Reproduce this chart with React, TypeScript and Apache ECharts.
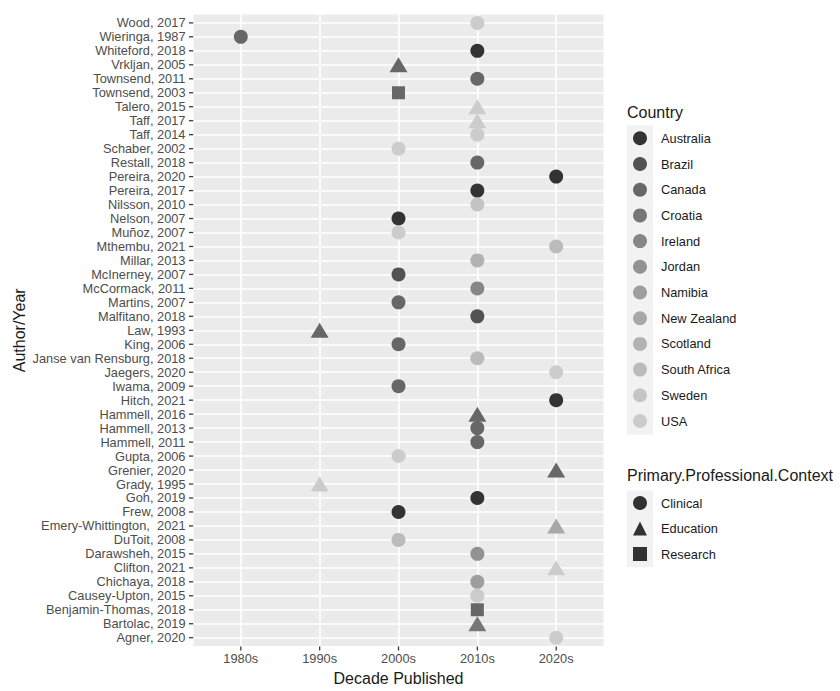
import React, { useEffect, useRef } from 'react';
import * as echarts from 'echarts';

const studies = [
  'Wood, 2017', 'Wieringa, 1987', 'Whiteford, 2018', 'Vrkljan, 2005', 'Townsend, 2011',
  'Townsend, 2003', 'Talero, 2015', 'Taff, 2017', 'Taff, 2014', 'Schaber, 2002',
  'Restall, 2018', 'Pereira, 2020', 'Pereira, 2017', 'Nilsson, 2010', 'Nelson, 2007',
  'Muñoz, 2007', 'Mthembu, 2021', 'Millar, 2013', 'McInerney, 2007', 'McCormack, 2011',
  'Martins, 2007', 'Malfitano, 2018', 'Law, 1993', 'King, 2006', 'Janse van Rensburg, 2018',
  'Jaegers, 2020', 'Iwama, 2009', 'Hitch, 2021', 'Hammell, 2016', 'Hammell, 2013',
  'Hammell, 2011', 'Gupta, 2006', 'Grenier, 2020', 'Grady, 1995', 'Goh, 2019',
  'Frew, 2008', 'Emery-Whittington,  2021', 'DuToit, 2008', 'Darawsheh, 2015', 'Clifton, 2021',
  'Chichaya, 2018', 'Causey-Upton, 2015', 'Benjamin-Thomas, 2018', 'Bartolac, 2019', 'Agner, 2020',
];

const decades = ['1980s', '1990s', '2000s', '2010s', '2020s'];

const studyDecade = [
  '2010s', '1980s', '2010s', '2000s', '2010s',
  '2000s', '2010s', '2010s', '2010s', '2000s',
  '2010s', '2020s', '2010s', '2010s', '2000s',
  '2000s', '2020s', '2010s', '2000s', '2010s',
  '2000s', '2010s', '1990s', '2000s', '2010s',
  '2020s', '2000s', '2020s', '2010s', '2010s',
  '2010s', '2000s', '2020s', '1990s', '2010s',
  '2000s', '2020s', '2000s', '2010s', '2020s',
  '2010s', '2010s', '2010s', '2010s', '2020s',
];

const studyCountry = [
  'USA', 'Canada', 'Australia', 'Canada', 'Canada',
  'Canada', 'USA', 'USA', 'USA', 'USA',
  'Canada', 'Australia', 'Australia', 'Sweden', 'Australia',
  'USA', 'South Africa', 'Scotland', 'Brazil', 'Ireland',
  'Canada', 'Brazil', 'Canada', 'Canada', 'South Africa',
  'USA', 'Canada', 'Australia', 'Canada', 'Canada',
  'Canada', 'USA', 'Canada', 'USA', 'Australia',
  'Australia', 'New Zealand', 'South Africa', 'Jordan', 'USA',
  'Namibia', 'USA', 'Canada', 'Croatia', 'USA',
];

const studyContext = [
  'Clinical', 'Clinical', 'Clinical', 'Education', 'Clinical',
  'Research', 'Education', 'Education', 'Clinical', 'Clinical',
  'Clinical', 'Clinical', 'Clinical', 'Clinical', 'Clinical',
  'Clinical', 'Clinical', 'Clinical', 'Clinical', 'Clinical',
  'Clinical', 'Clinical', 'Education', 'Clinical', 'Clinical',
  'Clinical', 'Clinical', 'Clinical', 'Education', 'Clinical',
  'Clinical', 'Clinical', 'Education', 'Education', 'Clinical',
  'Clinical', 'Education', 'Clinical', 'Clinical', 'Education',
  'Clinical', 'Clinical', 'Research', 'Education', 'Clinical',
];

const countries = [
  'Australia', 'Brazil', 'Canada', 'Croatia', 'Ireland', 'Jordan',
  'Namibia', 'New Zealand', 'Scotland', 'South Africa', 'Sweden', 'USA',
];

const contexts = ['Clinical', 'Education', 'Research'];

// styles (grey scale like ggplot's scale_colour_grey)
const countryColors = [
  '#333333', '#525252', '#676767', '#777777', '#868686', '#929292',
  '#9e9e9e', '#a8a8a8', '#b2b2b2', '#bbbbbb', '#c4c4c4', '#cccccc',
];
const contextSymbols = ['circle', 'triangle', 'rect'];
const contextSizes: any[] = [14, [18, 15], 13];

const FONT = 'Liberation Sans, Arial, Helvetica, sans-serif';

const PANEL = { left: 193.5, right: 603.5, top: 14.5, bottom: 655 };
const X_MIN = -0.6;
const X_MAX = 4.6;
const Y_MIN = -0.6;
const Y_MAX = 44.6;
const TICK_LEN = 4.5;

export default function App() {
  const ref = useRef<HTMLDivElement>(null);

  useEffect(() => {
    if (!ref.current) return;
    const chart = echarts.init(ref.current, undefined, { renderer: 'svg' });

    const countrySeries = countries.map((c, ci) => ({
      type: 'scatter',
      name: c,
      itemStyle: { color: countryColors[ci], opacity: 1 },
      emphasis: { disabled: true },
      z: 3,
      data: studies
        .map((_, i) => i)
        .filter((i) => studyCountry[i] === c)
        .map((i) => {
          const k = contexts.indexOf(studyContext[i]);
          return {
            value: [decades.indexOf(studyDecade[i]), i],
            symbol: contextSymbols[k],
            symbolSize: contextSizes[k],
          };
        }),
    }));

    const contextSeries = contexts.map((name, k) => ({
      type: 'scatter',
      name,
      symbol: contextSymbols[k],
      itemStyle: { color: '#000000' },
      data: [],
    }));

    const decadeIdx = decades.map((_, i) => i);
    const studyIdx = studies.map((_, i) => i);

    const tickStyle = { stroke: '#3a3a3a', lineWidth: 1.3, fill: 'none' };

    // axis tick marks, placed through the chart's own scales (api.coord)
    const yTickSeries = {
      type: 'custom',
      name: '__yticks',
      clip: false,
      silent: true,
      z: 6,
      data: studyIdx.map((i) => [X_MIN, i]),
      renderItem: (params: any, api: any) => {
        const p = api.coord([api.value(0), api.value(1)]);
        return {
          type: 'line',
          shape: { x1: p[0] - TICK_LEN, y1: p[1], x2: p[0] - 0.3, y2: p[1] },
          style: tickStyle,
        };
      },
    };
    const xTickSeries = {
      type: 'custom',
      name: '__xticks',
      clip: false,
      silent: true,
      z: 6,
      data: decadeIdx.map((d) => [d, Y_MAX]),
      renderItem: (params: any, api: any) => {
        const p = api.coord([api.value(0), api.value(1)]);
        return {
          type: 'line',
          shape: { x1: p[0], y1: p[1] + 0.3, x2: p[0], y2: p[1] + TICK_LEN },
          style: tickStyle,
        };
      },
    };

    const legendCommon = {
      orient: 'vertical',
      left: 633,
      padding: 0,
      itemWidth: 14,
      itemHeight: 14,
      selectedMode: false,
      z: 10,
      textStyle: {
        fontFamily: FONT,
        fontSize: 12.8,
        color: '#1a1a1a',
        lineHeight: 14,
        padding: [0, 0, 0, 9],
      },
    };

    const option: any = {
      animation: false,
      grid: {
        left: PANEL.left,
        right: 840 - PANEL.right,
        top: PANEL.top,
        bottom: 691 - PANEL.bottom,
        show: true,
        backgroundColor: '#ebebeb',
        borderWidth: 0,
      },
      xAxis: {
        type: 'value',
        min: X_MIN,
        max: X_MAX,
        name: 'Decade Published',
        nameLocation: 'middle',
        nameGap: 21,
        nameTextStyle: { fontFamily: FONT, fontSize: 16, color: '#1a1a1a' },
        axisLine: { show: false, onZero: false },
        axisTick: { show: false, customValues: decadeIdx },
        axisLabel: {
          customValues: decadeIdx,
          formatter: (v: number) => decades[Math.round(v)] ?? '',
          fontFamily: FONT,
          fontSize: 12.8,
          color: '#4d4d4d',
          margin: 6,
        },
        splitLine: { show: true, lineStyle: { color: '#ffffff', width: 1.6 } },
      },
      yAxis: {
        type: 'value',
        inverse: true,
        min: Y_MIN,
        max: Y_MAX,
        name: 'Author/Year',
        nameLocation: 'middle',
        nameRotate: 90,
        nameGap: 166,
        nameTextStyle: { fontFamily: FONT, fontSize: 16, color: '#1a1a1a' },
        axisLine: { show: false, onZero: false },
        axisTick: { show: false, customValues: studyIdx },
        axisLabel: {
          customValues: studyIdx,
          formatter: (v: number) => studies[Math.round(v)] ?? '',
          fontFamily: FONT,
          fontSize: 12.8,
          color: '#4d4d4d',
          margin: 8,
        },
        splitLine: { show: true, lineStyle: { color: '#ffffff', width: 1.6 } },
      },
      legend: [
        {
          ...legendCommon,
          top: 131.3,
          itemGap: 11.7,
          data: countries.map((c) => ({ name: c, icon: 'circle' })),
        },
        {
          ...legendCommon,
          top: 496,
          itemGap: 11.5,
          data: contexts.map((c, k) => ({ name: c, icon: contextSymbols[k] })),
        },
      ],
      graphic: [
        {
          type: 'rect',
          z: 0,
          shape: { x: 627, y: 125.5, width: 26, height: 309 },
          style: { fill: '#f2f2f2' },
          silent: true,
        },
        {
          type: 'rect',
          z: 0,
          shape: { x: 627, y: 490.5, width: 26, height: 76.5 },
          style: { fill: '#f2f2f2' },
          silent: true,
        },
        {
          type: 'text',
          x: 627,
          y: 112,
          style: {
            text: 'Country',
            fontFamily: FONT,
            fontSize: 16,
            fill: '#1a1a1a',
            verticalAlign: 'middle',
          },
          silent: true,
        },
        {
          type: 'text',
          x: 627,
          y: 475,
          style: {
            text: 'Primary.Professional.Context',
            fontFamily: FONT,
            fontSize: 16,
            fill: '#1a1a1a',
            verticalAlign: 'middle',
          },
          silent: true,
        },
      ],
      series: [...countrySeries, ...contextSeries, yTickSeries, xTickSeries],
    };

    chart.setOption(option);
    return () => chart.dispose();
  }, []);

  return (
    <div
      ref={ref}
      style={{ position: 'absolute', left: 0, top: 0, width: 840, height: 691, background: '#ffffff' }}
    />
  );
}
